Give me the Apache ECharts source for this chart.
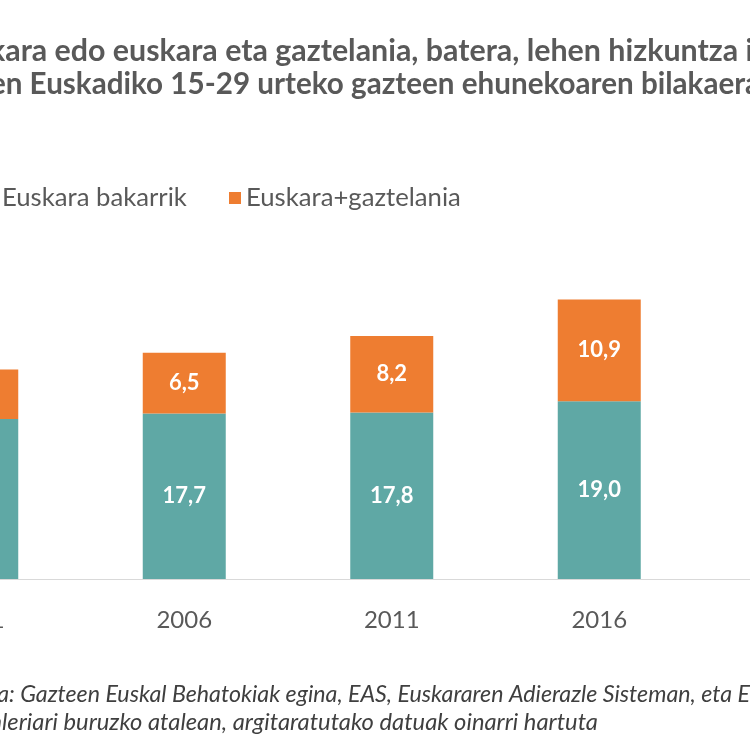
<!DOCTYPE html>
<html><head><meta charset="utf-8">
<script src="https://cdn.jsdelivr.net/npm/echarts@6/dist/echarts.min.js"></script>
<style>html,body{margin:0;padding:0;background:#fff}#c{width:750px;height:750px}</style>
</head><body><div id="c"></div>
<script>
const years = ['2001', '2006', '2011', '2016', '2021'];
const euskaraBakarrik = [17.1, 17.7, 17.8, 19.0, 19.6];
const euskaraGaztelania = [5.3, 6.5, 8.2, 10.9, 12.4];
const seriesNames = ['Euskara bakarrik', 'Euskara+gaztelania'];
const titleLines = ['Euskara edo euskara eta gaztelania, batera, lehen hizkuntza izan', 'duten Euskadiko 15-29 urteko gazteen ehunekoaren bilakaera (%)'];
const titleHidden = ['Eus', 'dut'];
const sourceLines = ['Iturria: Gazteen Euskal Behatokiak egina, EAS, Euskararen Adierazle Sisteman, eta EUSTATen', 'Biztanleriari buruzko atalean, argitaratutako datuak oinarri hartuta'];
const sourceHidden = ['Iturria', 'Biztan'];

const TEAL = '#5fa8a5', ORANGE = '#ee7d31', GRAY = '#595959', DARK = '#3f3f3f';
const cv = document.createElement('canvas').getContext('2d');
function tw(text, font) { cv.font = font; return cv.measureText(text).width; }

const vis1 = 'kara edo euskara eta gaztelania, batera, lehen hizkuntza i';
const titleFs = 1.026 * 24 * 745 / tw(vis1, 'bold 24px Lato');
const titleFont = 'bold ' + titleFs.toFixed(2) + 'px Lato';
const title2Scale = 0.975;
const srcFs = 23;
const srcFont = 'italic ' + srcFs + 'px Lato';
const srcScale1 = 741 / tw(': Gazteen Euskal Behatokiak egina, EAS, Euskararen Adierazle Sisteman, eta E', srcFont);
const srcScale2 = 596 / tw('leriari buruzko atalean, argitaratutako datuak oinarri hartuta', srcFont);
const legFs = 20 * 215 / tw('Euskara+gaztelania', '20px Lato');
const legGap = 230 - (3 + tw(seriesNames[0], legFs.toFixed(2) + 'px Lato'));

const labelFmt = p => p.value.toFixed(1).replace('.', ',');

const chart = echarts.init(document.getElementById('c'), null, { renderer: 'canvas' });
chart.setOption({
  backgroundColor: '#fff',
  animation: false,
  legend: {
    left: -20, top: 180,
    itemWidth: 12, itemHeight: 12, itemGap: legGap,
    icon: 'rect',
    textStyle: { fontFamily: 'Lato', fontSize: legFs, color: GRAY, lineHeight: 22 },
    data: seriesNames
  },
  grid: { left: -127, right: -160.5, top: 205, bottom: 171, containLabel: false, outerBoundsMode: 'none' },
  xAxis: {
    type: 'category', data: years,
    axisLine: { lineStyle: { color: '#d9d9d9', width: 1 } },
    axisTick: { show: false },
    axisLabel: { fontFamily: 'Lato', fontSize: 24, color: GRAY, margin: 29 }
  },
  yAxis: { type: 'value', min: 0, max: 40, show: false, splitLine: { show: false } },
  series: [
    {
      name: seriesNames[0], type: 'bar', stack: 't', barWidth: '40%', data: euskaraBakarrik,
      itemStyle: { color: TEAL },
      label: { show: true, position: 'inside', color: '#fff', fontFamily: 'Lato', fontWeight: 'bold', fontSize: 22, formatter: labelFmt }
    },
    {
      name: seriesNames[1], type: 'bar', stack: 't', barWidth: '40%', data: euskaraGaztelania,
      itemStyle: { color: ORANGE },
      label: { show: true, position: 'inside', color: '#fff', fontFamily: 'Lato', fontWeight: 'bold', fontSize: 22, formatter: labelFmt }
    }
  ],
  graphic: [
    { type: 'text', x: -11 - tw(titleHidden[0], titleFont), y: 51, style: { text: titleLines[0], font: titleFont, fill: GRAY, textVerticalAlign: 'middle' } },
    { type: 'text', x: -10 - tw(titleHidden[1], titleFont) * title2Scale, y: 84, scaleX: title2Scale, style: { text: titleLines[1], font: titleFont, fill: GRAY, textVerticalAlign: 'middle' } },
    { type: 'text', x: 9 - tw(sourceHidden[0], srcFont) * srcScale1, y: 695, scaleX: srcScale1, style: { text: sourceLines[0], font: srcFont, fill: DARK, textVerticalAlign: 'middle' } },
    { type: 'text', x: 2 - tw(sourceHidden[1], srcFont) * srcScale2, y: 723, scaleX: srcScale2, style: { text: sourceLines[1], font: srcFont, fill: DARK, textVerticalAlign: 'middle' } }
  ]
});
</script></body></html>
